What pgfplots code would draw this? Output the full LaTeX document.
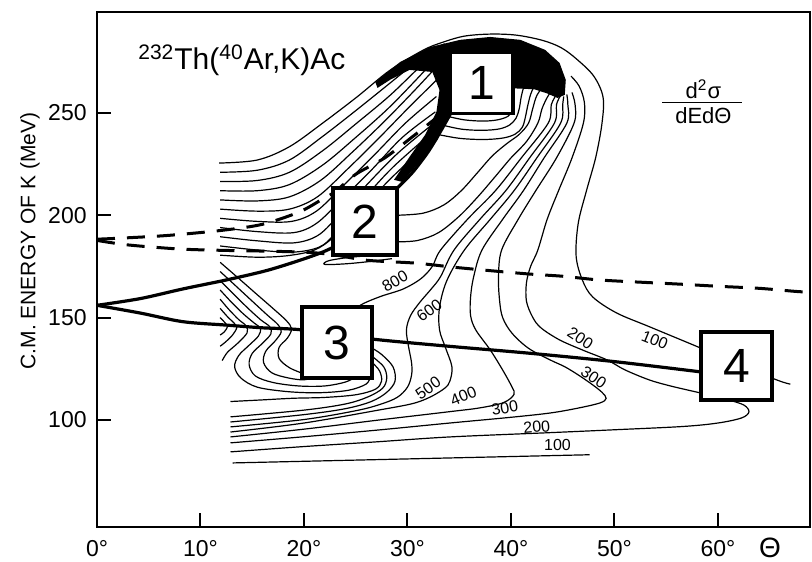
\documentclass[border=0pt]{standalone}
\usepackage{pgfplots}
\pgfplotsset{compat=1.18}
\usepackage{fontspec}
\setmainfont{Liberation Sans}

\tikzset{
  ct/.style={black, line width=0.6pt, smooth, tension=0.55},
  ridge/.style={black, line width=1.6pt, smooth, tension=0.5},
  dsh/.style={black, line width=1.5pt, smooth, tension=0.5, dash pattern=on 9pt off 6pt},
  bx/.style={draw=black, line width=1.6pt, fill=white, inner sep=0pt, font=\fontsize{24}{24}\selectfont},
  lbl/.style={font=\fontsize{8}{8}\selectfont, inner sep=0.3pt},
}

\begin{document}
\begin{tikzpicture}
\useasboundingbox (0,0) rectangle (406pt,280.5pt);
\begin{axis}[
  at={(48.5pt,17pt)}, anchor=south west,
  scale only axis, width=356.5pt, height=257.5pt,
  xmin=0, xmax=68.9, ymin=47.7, ymax=299.3,
  axis line style={line width=0.8pt},
  xtick={0,10,20,30,40,50,60},
  xticklabels={0°,10°,20°,30°,40°,50°,60°},
  ytick={100,150,200,250},
  yticklabels={100,150,200,250},
  tick align=inside, xtick pos=bottom, ytick pos=left,
  major tick length=7pt,
  tick style={black, line width=1pt},
  xticklabel style={anchor=base, yshift=-14.5pt, font=\fontsize{11.5}{13}\selectfont},
  yticklabel style={anchor=east, inner sep=0pt, xshift=-5pt, font=\fontsize{11.5}{13}\selectfont},
  no markers,
]

% outermost contour: upper-left branch, over the dome, down the right side
\addplot[ct] coordinates {(11.8,225.5) (15.5,227) (18.6,233.5) (21.8,245) (25.1,257.7) (28.3,270.8) (31.5,280.6) (33.4,284.5) (35.5,287.5) (38,288.5) (40.5,288) (43,285.5) (44.8,282) (46.3,276.5) (48,268) (48.9,257.7) (48.8,245) (48.2,228.4) (47.3,212) (46.5,196) (46.3,180) (46.9,168.4) (47.9,160.1) (50.2,152.3) (53.4,145.5) (58.3,135.2) (65.2,120.5) (67,117.5)};

% upper-left family running into the dome
\addplot[ct] coordinates {(11.9,221) (15.5,222) (18.6,227) (21.8,238.5) (25.1,251.5) (28.3,264.5) (31.5,277.5) (33.6,283.8)};
\addplot[ct] coordinates {(11.9,216.5) (15.5,217) (18.6,221) (21.8,231.5) (25.1,245) (28.3,258.5) (31.2,272.5) (33.3,281.5)};
\addplot[ct] coordinates {(11.9,212) (15.5,212) (18.6,215) (21.8,224.5) (25,238) (28.1,252) (30.9,266.5) (33,278)};
\addplot[ct] coordinates {(11.9,207.5) (15.5,207) (18.6,209) (21.6,217) (24.6,230.5) (27.7,245.5) (30.5,260) (32.9,273)};
\addplot[ct] coordinates {(11.9,203) (15.5,202) (18.6,203) (21.3,209) (24.2,222.5) (27.3,238) (30.1,252.5) (32.8,266)};
\addplot[ct] coordinates {(11.9,198.5) (15.5,197) (18.8,197) (21.2,202) (23.8,214.5) (26.9,230) (29.8,245) (32.8,258)};
\addplot[ct] coordinates {(11.9,194) (15.5,192) (19,191.5) (21.2,196) (23.5,207) (26.5,222) (29.5,238) (32.7,250.5)};
\addplot[ct] coordinates {(11.9,189.5) (15.5,187.5) (19,186.5) (21.3,190) (23.2,199) (26,214.5) (29,230) (32.2,243.5)};
\addplot[ct] coordinates {(11.9,185) (15.5,183) (19,182) (21.5,184.5) (23,191) (25.6,207) (28.5,223) (31.6,237)};
\addplot[ct] coordinates {(11.9,180.5) (15.5,179.5) (18.5,180.3) (21,183) (22.8,189) (25.3,201) (28,216) (30.9,230)};

% arcs below peak 1
\addplot[ct] coordinates {(33.9,248.3) (35.5,246.6) (37.3,246) (38.7,246.6) (39.7,248.3) (40.1,251)};
\addplot[ct] coordinates {(33.4,244) (35.3,242) (37.3,241.5) (38.9,242.2) (39.9,244.2) (40.5,247.5) (40.8,252) (41,258) (41.3,264)};
\addplot[ct] coordinates {(32.9,239.5) (35,237.6) (37.3,237) (39.2,237.7) (40.4,239.6) (41.1,243) (41.4,248) (41.6,253) (41.9,259) (42.4,265)};
\addplot[ct] coordinates {(29,200) (31.5,201) (33.5,205) (35.2,212) (36.8,221) (38.2,229) (39.6,235) (40.8,239.5) (41.7,245) (42.1,252) (42.5,258.5) (43.2,263.5)};
\addplot[ct] coordinates {(29,187) (31,187.7) (33,191.5) (35,199.5) (36.8,209) (38.5,219) (40,228) (41.5,236) (42.6,245) (43,252) (43.5,257.5) (44,261.5)};

% contour leaving peak 3 upwards (800)
\addplot[ct] coordinates {(24.5,153) (25.8,157) (27.5,160.5) (29.6,164) (31.3,169) (32.4,175) (33.2,183) (35.8,198) (38.5,212) (41,228) (43.6,245) (43.9,254) (44.4,259)};
% 600
\addplot[ct] coordinates {(12.9,96.6) (20,100.2) (25,104.5) (27.3,107.5) (29,111) (30,116) (30.4,122) (30.4,127.8) (30.1,136) (29.9,144) (30.3,151) (31.2,157.5) (32.3,164) (33.2,170) (34.5,183) (37,198) (39.5,212) (41.8,228) (44.2,245) (44.4,254) (44.8,258.5)};
% 500
\addplot[ct] coordinates {(12.9,94.1) (20,98.5) (27.3,104.9) (30.5,108) (32.2,111.2) (33.6,115.5) (34.1,119) (34.3,125.9) (33.7,135) (33.1,144) (33.1,155) (33.8,168) (35.5,183) (38,198) (40.3,212) (42.5,228) (44.8,245) (45,254) (45.1,258)};
% 400
\addplot[ct] coordinates {(12.9,91.7) (20,95.5) (27.3,100) (34,104) (37,105.9) (39.3,108.5) (40.3,112.5) (40.1,116.1) (39.2,124.4) (38,134.2) (36.6,144) (36.1,151) (36.1,160) (36.4,170) (37.2,183) (39.2,198) (41.2,212) (43.2,228) (45.4,245) (45.5,254) (45.4,259)};
% 300
\addplot[ct] coordinates {(12.9,88.8) (20,91.8) (27,95) (34.1,98.5) (40,101.3) (43.8,103.4) (46.5,105.8) (48.6,108.3) (49.2,110.5) (48.8,113.5) (47.8,117.5) (46.5,122) (45.2,126) (43.8,129.3) (41.7,135) (40.1,142.4) (39.2,150) (38.9,158.5) (38.8,170) (39.1,183) (40.7,198) (42.4,212) (44.4,228) (46.1,245) (46.2,254) (45.9,260)};
% 200
\addplot[ct] coordinates {(12.9,84.4) (20,87) (27,89.3) (34.1,91.7) (43.8,93.8) (50,95.2) (56.6,96.8) (60,98.5) (62.3,101) (63,104) (62.5,107.3) (61,109.8) (59,112.3) (58.3,113.2) (55.5,116.5) (53.4,119.5) (51,124.5) (49.3,129.3) (47,134) (44.7,139.1) (42.9,145) (42.1,150.2) (41.5,158) (41.5,167) (41.9,175) (42.6,183) (43.5,198) (44.6,212) (45.9,228) (47,245) (47.1,255) (46.6,263) (45.8,268)};
% 100 (lower, open)
\addplot[black, line width=0.6pt] coordinates {(13.1,79) (47.6,83)};

% contours round peak 3
\addplot[ct] coordinates {(11.9,177) (13.5,170) (15.3,162) (17,154.5) (18.3,148.5) (18.8,144.5) (18.4,140) (17.6,135.5) (17.6,130) (18.6,125.5) (20,122.5)};
\addplot[ct] coordinates {(11.9,172.5) (13.3,166) (14.9,158.5) (16.4,151.5) (17.5,146.5) (17.8,143) (17.2,138.5) (16.3,133.5) (16.1,128) (16.9,123) (18.5,120.5) (20,119.6) (21,121)};
\addplot[ct] coordinates {(11.9,168) (13.1,162) (14.5,155) (15.8,149) (16.7,145.5) (16.8,142) (16,137.5) (15,132.5) (14.7,127) (15.3,121.5) (17,118.3) (19.5,116.6) (22,116.6) (24,118.5) (25,121)};
\addplot[ct] coordinates {(11.9,163.5) (12.9,158) (14.1,152) (15.2,147.3) (15.8,144.7) (15.6,141) (14.7,136.5) (13.7,131.5) (13.3,126) (13.9,120.5) (15.5,116) (18.5,113.8) (21.5,113.3) (24.3,114.5) (26,117.5) (26.4,121)};
\addplot[ct] coordinates {(11.9,159) (12.7,154.2) (13.7,149) (14.4,146) (14.5,142.5) (13.6,137.5) (12.6,133) (12.1,129)};
\addplot[ct] coordinates {(11.9,154.5) (12.6,150.5) (13.3,147) (13.5,145) (13.1,141.5) (12.4,138) (11.9,136)};
\addplot[ct] coordinates {(11.9,150) (12.4,147.3) (12.6,145.5) (12.3,143) (11.9,141.5)};
\addplot[ct] coordinates {(12.9,109) (16,109.8) (19,110.6) (22,111) (25,112.3) (26.9,115) (27.5,119) (27.3,124) (26.6,128)};
\addplot[ct] coordinates {(12.9,101.5) (20,104.8) (24,107.8) (26.2,111.3) (27.6,115.5) (28,120.5) (27.7,126) (26.6,131)};
\addplot[ct] coordinates {(12.9,99) (20,102.6) (24,105.5) (26.5,109) (28,113.5) (28.8,119) (28.6,126) (27.5,132) (26.6,135)};

% small loop under peak 2
\addplot[ct] coordinates {(28.5,178.8) (26,177.2) (23.8,176.2) (22,176) (22.4,177.8) (24.5,179.5) (27,180.4)};

% dense region round peak 1
\addplot[fill=black, draw=none] coordinates {(26.9,265.1) (29.3,274.9) (32.2,282.2) (35.1,285.7) (38,287.1) (40.9,285.7) (43.3,280.8) (44.7,274.4) (45.3,266.1) (45.2,258.8) (44.5,257.3) (43.5,259.5) (42.3,261.5) (41.2,261.8) (40.2,262) (38,262) (35,262) (34.1,249.8) (33.8,247.6) (32.9,236.8) (31.2,226.1) (29.5,216.3) (28.7,217.3) (30.2,228.5) (31.7,239.2) (32.8,250.5) (33.1,261.2) (32.4,270) (30.2,271) (28.3,266.1) (27.1,262.2)} -- cycle;

% ridge lines
\addplot[ridge] coordinates {(0,156) (4.2,159.3) (8.3,164) (12.6,168.5) (16.4,173) (19.6,178) (21.8,182) (23.5,186)};
\addplot[ridge] coordinates {(28.5,210) (29,213.2) (30.5,221) (32,231) (33.2,241) (34.2,250)};
\addplot[ridge] coordinates {(0,156) (4.2,152.2) (8.3,148) (12.6,146.3) (16,145) (19.8,144) (26.6,139.5) (34,136) (42,132.5) (50,128.5) (58.3,123.5)};

% dashed lines
\addplot[dsh] coordinates {(0,188.3) (3,189) (7,190.2) (12.2,192.7) (16,195.6) (19.5,201.5) (21.6,207.3) (23,211.5) (25,220) (27.8,228) (30.4,238) (32.4,246) (33.5,250.5)};
\addplot[dsh] coordinates {(0,187.7) (3,185.5) (8,183.5) (12.6,182.8) (16,182.5) (20.3,181.9) (23,180.6) (26.1,178) (30.8,176.6) (34.5,174.6) (38.5,172.7) (42,171.2) (45,170.2) (48.5,168.4) (52.5,167.3) (56.5,166.3) (60,165.3) (64,164.3) (67.5,162.8) (68.9,162.4)};

% peak boxes
\node[bx, minimum width=31.5pt, minimum height=30.5pt] at (axis cs:37.15,264.7) {1};
\node[bx, minimum width=32pt, minimum height=33.5pt] at (axis cs:25.9,196.9) {2};
\node[bx, minimum width=35pt, minimum height=35.5pt] at (axis cs:23.2,137.8) {3};
\node[bx, minimum width=35.5pt, minimum height=34pt] at (axis cs:61.8,126.35) {4};

% contour values
\node[lbl, rotate=30] at (axis cs:28.8,167.8) {800};
\node[lbl, rotate=36] at (axis cs:32.1,153.6) {600};
\node[lbl, rotate=35] at (axis cs:32,115.6) {500};
\node[lbl, rotate=22] at (axis cs:35.4,111.7) {400};
\node[lbl, rotate=10] at (axis cs:39.4,105.9) {300};
\node[lbl, rotate=5] at (axis cs:42.5,96.6) {200};
\node[lbl] at (axis cs:44.5,87.8) {100};
\node[lbl, rotate=-33] at (axis cs:46.7,140) {200};
\node[lbl, rotate=-34] at (axis cs:48,120.8) {300};
\node[lbl, rotate=-22] at (axis cs:53.9,139) {100};

% reaction and cross-section labels
\node[anchor=base west, font=\fontsize{15}{17}\selectfont, inner sep=0pt] at (axis cs:3.96,271) {\textsuperscript{232}Th(\textsuperscript{40}Ar,K)Ac};
\node[anchor=south, font=\fontsize{11}{12}\selectfont, inner sep=1pt] at (axis cs:58.6,256) {d\textsuperscript{2}σ};
\draw[line width=0.7pt] (axis cs:54.6,255) -- (axis cs:62.3,255);
\node[anchor=north, font=\fontsize{11}{12}\selectfont, inner sep=1pt] at (axis cs:58.6,254) {dEdΘ};

% heavier left and bottom frame lines
\draw[line width=1.3pt] (rel axis cs:0,1) -- (rel axis cs:0,0) -- (rel axis cs:1,0);
\end{axis}
\node[rotate=90, font=\fontsize{10.5}{12}\selectfont] at (15pt,160pt) {C.M. ENERGY OF K (MeV)};
\node[font=\fontsize{14}{14}\selectfont] at (385pt,6.5pt) {Θ};
\end{tikzpicture}
\end{document}
